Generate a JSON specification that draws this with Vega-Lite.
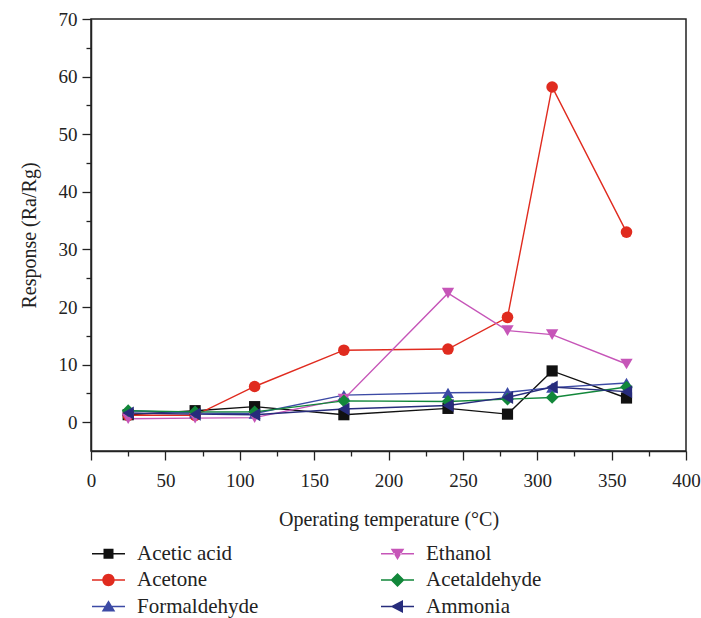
{
  "$schema": "https://vega.github.io/schema/vega-lite/v6.json",
  "width": 595,
  "height": 432,
  "autosize": {"type": "none"},
  "padding": {"left": 91, "top": 19, "right": 15, "bottom": 167},
  "config": {
    "font": "Liberation Serif",
    "view": {"stroke": "#222222", "strokeWidth": 1.5},
    "axis": {
      "domainColor": "#222222",
      "domainWidth": 1.5,
      "tickColor": "#222222",
      "tickWidth": 1.3,
      "labelFont": "Liberation Serif",
      "labelFontSize": 19,
      "labelColor": "#222222",
      "titleFont": "Liberation Serif",
      "titleFontSize": 20,
      "titleFontWeight": "normal",
      "titleColor": "#222222",
      "grid": false
    },
    "legend": {
      "labelFont": "Liberation Serif",
      "labelFontSize": 21,
      "labelColor": "#222222"
    }
  },
  "resolve": {"scale": {"shape": "independent", "color": "independent", "size": "independent"}},
  "data": {
    "values": [
      {"T": 25, "R": 1.3, "gas": "Acetic acid"},
      {"T": 70, "R": 2.0, "gas": "Acetic acid"},
      {"T": 110, "R": 2.7, "gas": "Acetic acid"},
      {"T": 170, "R": 1.3, "gas": "Acetic acid"},
      {"T": 240, "R": 2.4, "gas": "Acetic acid"},
      {"T": 280, "R": 1.4, "gas": "Acetic acid"},
      {"T": 310, "R": 8.9, "gas": "Acetic acid"},
      {"T": 360, "R": 4.2, "gas": "Acetic acid"},
      {"T": 25, "R": 1.2, "gas": "Acetone"},
      {"T": 70, "R": 1.2, "gas": "Acetone"},
      {"T": 110, "R": 6.2, "gas": "Acetone"},
      {"T": 170, "R": 12.5, "gas": "Acetone"},
      {"T": 240, "R": 12.7, "gas": "Acetone"},
      {"T": 280, "R": 18.2, "gas": "Acetone"},
      {"T": 310, "R": 58.2, "gas": "Acetone"},
      {"T": 360, "R": 33.0, "gas": "Acetone"},
      {"T": 25, "R": 2.0, "gas": "Formaldehyde"},
      {"T": 70, "R": 1.6, "gas": "Formaldehyde"},
      {"T": 110, "R": 1.5, "gas": "Formaldehyde"},
      {"T": 170, "R": 4.7, "gas": "Formaldehyde"},
      {"T": 240, "R": 5.1, "gas": "Formaldehyde"},
      {"T": 280, "R": 5.2, "gas": "Formaldehyde"},
      {"T": 310, "R": 6.0, "gas": "Formaldehyde"},
      {"T": 360, "R": 6.8, "gas": "Formaldehyde"},
      {"T": 25, "R": 0.6, "gas": "Ethanol"},
      {"T": 70, "R": 0.7, "gas": "Ethanol"},
      {"T": 110, "R": 0.8, "gas": "Ethanol"},
      {"T": 170, "R": 4.0, "gas": "Ethanol"},
      {"T": 240, "R": 22.4, "gas": "Ethanol"},
      {"T": 280, "R": 15.9, "gas": "Ethanol"},
      {"T": 310, "R": 15.2, "gas": "Ethanol"},
      {"T": 360, "R": 10.1, "gas": "Ethanol"},
      {"T": 25, "R": 2.0, "gas": "Acetaldehyde"},
      {"T": 70, "R": 1.8, "gas": "Acetaldehyde"},
      {"T": 110, "R": 1.8, "gas": "Acetaldehyde"},
      {"T": 170, "R": 3.7, "gas": "Acetaldehyde"},
      {"T": 240, "R": 3.6, "gas": "Acetaldehyde"},
      {"T": 280, "R": 4.0, "gas": "Acetaldehyde"},
      {"T": 310, "R": 4.3, "gas": "Acetaldehyde"},
      {"T": 360, "R": 6.1, "gas": "Acetaldehyde"},
      {"T": 25, "R": 1.6, "gas": "Ammonia"},
      {"T": 70, "R": 1.4, "gas": "Ammonia"},
      {"T": 110, "R": 1.3, "gas": "Ammonia"},
      {"T": 170, "R": 2.3, "gas": "Ammonia"},
      {"T": 240, "R": 2.9, "gas": "Ammonia"},
      {"T": 280, "R": 4.3, "gas": "Ammonia"},
      {"T": 310, "R": 6.1, "gas": "Ammonia"},
      {"T": 360, "R": 5.3, "gas": "Ammonia"}
    ]
  },
  "encoding": {
    "x": {
      "field": "T",
      "type": "quantitative",
      "scale": {"domain": [0, 400], "nice": false, "zero": false},
      "axis": {
        "title": "Operating temperature (°C)",
        "values": [0, 25, 50, 75, 100, 125, 150, 175, 200, 225, 250, 275, 300, 325, 350, 375, 400],
        "labelExpr": "datum.value % 50 === 0 ? datum.label : ''",
        "tickSize": {"condition": {"test": "datum.value % 50 === 0", "value": 9}, "value": 5},
        "labelPadding": 11,
        "titlePadding": 19,
        "labelFlush": false,
        "labelOverlap": false
      }
    },
    "y": {
      "field": "R",
      "type": "quantitative",
      "scale": {"domain": [-5, 70], "nice": false, "zero": false},
      "axis": {
        "title": "Response (Ra/Rg)",
        "values": [0, 5, 10, 15, 20, 25, 30, 35, 40, 45, 50, 55, 60, 65, 70],
        "labelExpr": "datum.value % 10 === 0 ? datum.label : ''",
        "tickSize": {"condition": {"test": "datum.value % 10 === 0", "value": 9}, "value": 5},
        "labelPadding": 5,
        "titlePadding": 19,
        "labelFlush": false,
        "labelOverlap": false
      }
    }
  },
  "layer": [
    {
      "mark": {"type": "line", "strokeWidth": 1.4},
      "encoding": {
        "color": {
          "field": "gas",
          "type": "nominal",
          "scale": {
            "domain": ["Acetic acid", "Acetone", "Formaldehyde", "Ethanol", "Acetaldehyde", "Ammonia"],
            "range": ["#111111", "#e02b1f", "#3c4aa5", "#c655b8", "#12873a", "#272c7c"]
          },
          "legend": null
        }
      }
    },
    {
      "mark": {"type": "point", "filled": true, "opacity": 1, "strokeWidth": 0},
      "encoding": {
        "color": {
          "field": "gas",
          "type": "nominal",
          "scale": {
            "domain": ["Acetic acid", "Acetone", "Formaldehyde", "Ethanol", "Acetaldehyde", "Ammonia"],
            "range": ["#111111", "#e02b1f", "#3c4aa5", "#c655b8", "#12873a", "#272c7c"]
          },
          "legend": null
        },
        "shape": {
          "field": "gas",
          "type": "nominal",
          "scale": {
            "domain": ["Acetic acid", "Acetone", "Formaldehyde", "Ethanol", "Acetaldehyde", "Ammonia"],
            "range": ["square", "circle", "triangle-up", "triangle-down", "diamond", "triangle-left"]
          },
          "legend": null
        },
        "size": {
          "field": "gas",
          "type": "nominal",
          "scale": {
            "domain": ["Acetic acid", "Acetone", "Formaldehyde", "Ethanol", "Acetaldehyde", "Ammonia"],
            "range": [125, 170, 240, 240, 300, 240]
          },
          "legend": null
        }
      }
    },
    {
      "transform": [{"filter": "datum.T < 0"}],
      "mark": {"type": "point", "filled": true, "opacity": 1, "strokeWidth": 0, "size": 400},
      "encoding": {
        "color": {
          "field": "gas",
          "type": "nominal",
          "scale": {
            "domain": ["Acetic acid", "Acetone", "Formaldehyde", "Ethanol", "Acetaldehyde", "Ammonia"],
            "range": ["#111111", "#e02b1f", "#3c4aa5", "#c655b8", "#12873a", "#272c7c"]
          },
          "legend": {
            "title": null,
            "orient": "none",
            "legendX": 7,
            "legendY": 524,
            "columns": 2,
            "columnPadding": 122,
            "rowPadding": 4.5,
            "padding": 0,
            "symbolSize": 400,
            "symbolStrokeWidth": 0,
            "symbolOpacity": 1,
            "labelFont": "Liberation Serif",
            "labelFontSize": 21,
            "labelColor": "#222222",
            "labelOffset": 18,
            "labelLimit": 300
          }
        },
        "shape": {
          "field": "gas",
          "type": "nominal",
          "scale": {
            "domain": ["Acetic acid", "Acetone", "Formaldehyde", "Ethanol", "Acetaldehyde", "Ammonia"],
            "range": [
              "M-1.65,-0.07H-0.3V0.07H-1.65Z M0.3,-0.07H1.65V0.07H0.3Z M-0.5,-0.5H0.5V0.5H-0.5Z",
              "M-1.65,-0.07H-0.3V0.07H-1.65Z M0.3,-0.07H1.65V0.07H0.3Z M-0.62,0A0.62,0.62,0,1,1,0.62,0A0.62,0.62,0,1,1,-0.62,0Z",
              "M-1.65,-0.07H-0.3V0.07H-1.65Z M0.3,-0.07H1.65V0.07H0.3Z M0,-0.62L0.68,0.5L-0.68,0.5Z",
              "M-1.65,-0.07H-0.3V0.07H-1.65Z M0.3,-0.07H1.65V0.07H0.3Z M0,0.62L0.68,-0.5L-0.68,-0.5Z",
              "M-1.65,-0.07H-0.3V0.07H-1.65Z M0.3,-0.07H1.65V0.07H0.3Z M0,-0.7L0.7,0L0,0.7L-0.7,0Z",
              "M-1.65,-0.07H-0.3V0.07H-1.65Z M0.3,-0.07H1.65V0.07H0.3Z M-0.7,0L0.55,-0.65L0.55,0.65Z"
            ]
          },
          "legend": {
            "title": null,
            "orient": "none",
            "legendX": 7,
            "legendY": 524,
            "columns": 2,
            "columnPadding": 122,
            "rowPadding": 4.5,
            "padding": 0,
            "symbolSize": 400,
            "symbolStrokeWidth": 0,
            "symbolOpacity": 1,
            "labelFont": "Liberation Serif",
            "labelFontSize": 21,
            "labelColor": "#222222",
            "labelOffset": 18,
            "labelLimit": 300
          }
        }
      }
    }
  ]
}
